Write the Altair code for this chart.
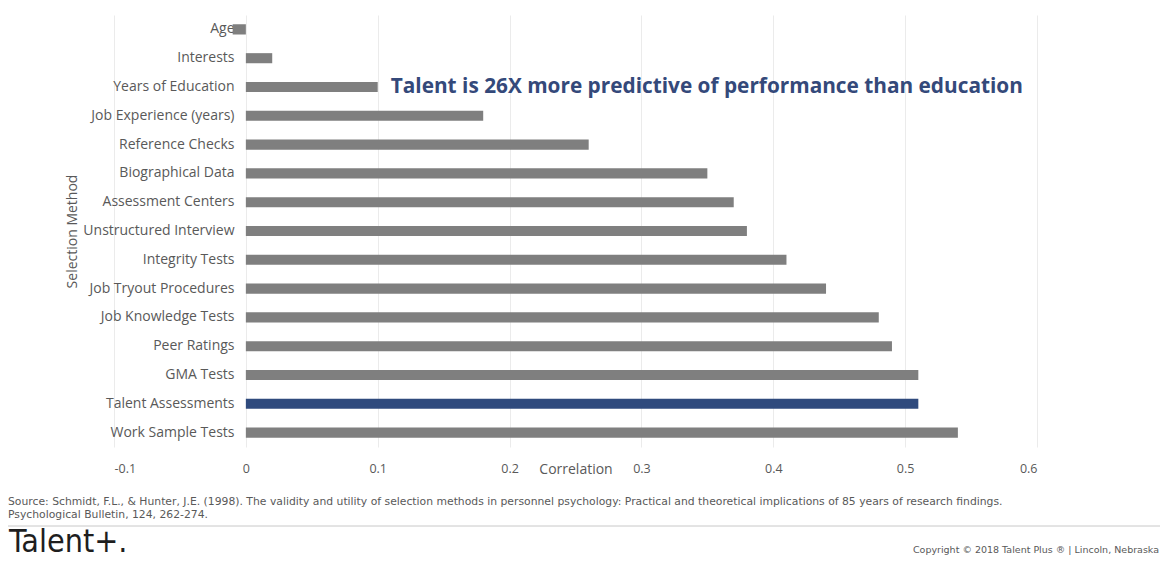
import altair as alt
import pandas as pd

methods = ["Age", "Interests", "Years of Education", "Job Experience (years)",
           "Reference Checks", "Biographical Data", "Assessment Centers",
           "Unstructured Interview", "Integrity Tests", "Job Tryout Procedures",
           "Job Knowledge Tests", "Peer Ratings", "GMA Tests",
           "Talent Assessments", "Work Sample Tests"]
correlations = [-0.01, 0.02, 0.10, 0.18, 0.26, 0.35, 0.37, 0.38, 0.41, 0.44,
                0.48, 0.49, 0.51, 0.51, 0.54]
highlight = ["no"] * 13 + ["yes"] + ["no"]
x_ticks = [-0.1, 0, 0.1, 0.2, 0.3, 0.4, 0.5, 0.6]

headline = "Talent is 26X more predictive of performance than education"
source_1 = ("Source: Schmidt, F.L., & Hunter, J.E. (1998). The validity and utility of selection "
            "methods in personnel psychology: Practical and theoretical implications of 85 years "
            "of research findings.")
source_2 = "Psychological Bulletin, 124, 262-274."
brand = "Talent+."
copyright_txt = "Copyright \u00a9 2018 Talent Plus \u00ae  |  Lincoln, Nebraska"

df = pd.DataFrame({"method": methods, "corr": correlations, "hl": highlight})
one = pd.DataFrame({"k": [0]})

FONT = "Open Sans"
GRAY_TXT = "#595959"

W, H = 923, 432

bars = alt.Chart(df).mark_bar().encode(
    x=alt.X("corr:Q",
            scale=alt.Scale(domain=[-0.1, 0.6], nice=False, zero=False),
            axis=alt.Axis(values=x_ticks, title="Correlation",
                          labelExpr="datum.value == 0 ? '0' : replace(format(datum.value, '.1f'), '\u2212', '-')",
                          domain=False, ticks=False, grid=True, gridColor="#ebebeb",
                          labelPadding=15, labelFontSize=12.5, labelColor=GRAY_TXT,
                          labelFont=FONT, titleFont=FONT, titleFontSize=14,
                          titleFontWeight="normal", titleColor=GRAY_TXT,
                          titleY=22, titleBaseline="middle")),
    y=alt.Y("method:N", sort=methods,
            scale=alt.Scale(paddingInner=0.65, paddingOuter=0.325),
            axis=alt.Axis(title="Selection Method", offset=-132, domain=False,
                          ticks=False, labelPadding=12, labelFontSize=14,
                          labelColor=GRAY_TXT, labelFont=FONT, titleFont=FONT,
                          titleFontSize=14, titleFontWeight="normal",
                          titleColor=GRAY_TXT, titlePadding=3)),
    color=alt.Color("hl:N", scale=alt.Scale(domain=["no", "yes"],
                                              range=["#7f7f7f", "#2f4a7d"]),
                    legend=None),
)

note = alt.Chart(one).mark_text(
    align="left", baseline="middle", dx=13, font=FONT, fontSize=20.8,
    fontWeight="bold", color="#34497a"
).encode(x=alt.datum(0.1), y=alt.datum("Years of Education"), text=alt.value(headline))

src1 = alt.Chart(one).mark_text(align="left", baseline="middle", font="DejaVu Sans",
                                fontSize=10.8, color=GRAY_TXT).encode(
    x=alt.value(-106), y=alt.value(487), text=alt.value(source_1))
src2 = alt.Chart(one).mark_text(align="left", baseline="middle", font="DejaVu Sans",
                                fontSize=10.8, color=GRAY_TXT).encode(
    x=alt.value(-106), y=alt.value(500), text=alt.value(source_2))
sep = alt.Chart(one).mark_rule(color="#c8c8c8", strokeWidth=1).encode(
    x=alt.value(-106), x2=alt.value(1046), y=alt.value(511))
logo = alt.Chart(one).mark_text(align="left", baseline="alphabetic",
                                font="DejaVu Sans Condensed, Roboto", fontSize=32,
                                color="#1e1e1e").encode(
    x=alt.value(-105), y=alt.value(537), text=alt.value(brand))
copy = alt.Chart(one).mark_text(align="right", baseline="middle", font="DejaVu Sans",
                                fontSize=9.5, color=GRAY_TXT).encode(
    x=alt.value(1045), y=alt.value(535), text=alt.value(copyright_txt))

chart = alt.layer(bars, note, src1, src2, sep, logo, copy).properties(
    width=W, height=H,
    autosize=alt.AutoSizeParams(type="none"),
    padding={"left": 106, "top": 7, "right": 124, "bottom": 116},
).configure_view(stroke=None)

chart.save("out.html", embed_options={"renderer": "svg", "actions": False})
